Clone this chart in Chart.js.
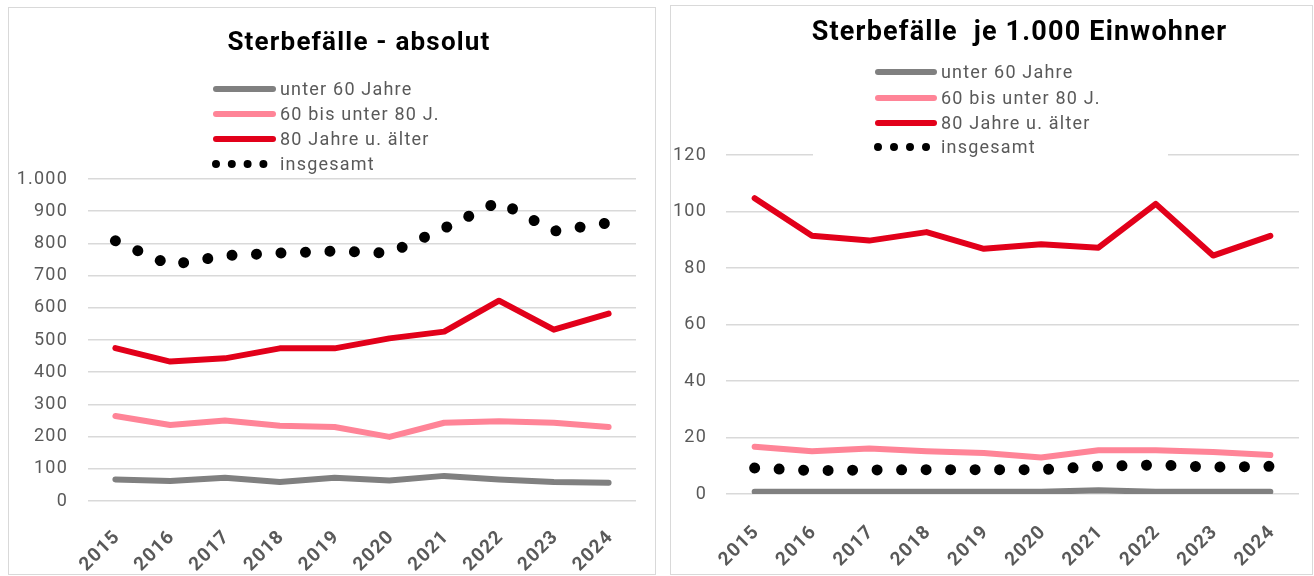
<!DOCTYPE html>
<html><head><meta charset="utf-8">
<script src="https://cdn.jsdelivr.net/npm/chart.js@4"></script>
<style>
html,body{margin:0;padding:0;background:#fff;width:1314px;height:576px;overflow:hidden;}
.box{position:absolute;border:1px solid #d9d9d9;background:#fff;}
canvas{display:block;}
</style></head><body>
<div class="box" style="left:8px;top:7px;"><canvas id="c1" width="646" height="566"></canvas></div>
<div class="box" style="left:670px;top:5px;"><canvas id="c2" width="641" height="568"></canvas></div>
<script>
// ---- data ----
const categories = ['2015','2016','2017','2018','2019','2020','2021','2022','2023','2024'];
const seriesLabels = ['unter 60 Jahre','60 bis unter 80 J.','80 Jahre u. älter','insgesamt'];

const absUnter60 = [67, 62, 72, 59, 72, 64, 78, 67, 59, 57];
const abs60bis80 = [264, 236, 250, 234, 230, 199, 243, 248, 243, 230];
const abs80plus  = [475, 433, 443, 474, 474, 505, 526, 622, 532, 582];
const absGesamt  = [808, 733, 762, 770, 776, 770, 847, 930, 838, 864];

const rateUnter60 = [0.8, 0.8, 0.8, 0.8, 0.8, 0.8, 1.3, 0.8, 0.8, 0.8];
const rate60bis80 = [16.7, 15.1, 16.1, 15.1, 14.5, 12.9, 15.5, 15.5, 14.9, 13.8];
const rate80plus  = [104.7, 91.4, 89.7, 92.7, 86.8, 88.4, 87.2, 102.7, 84.4, 91.4];
const rateGesamt  = [9.2, 8.3, 8.5, 8.6, 8.6, 8.6, 9.8, 10.3, 9.5, 9.8];

const titleAbs = 'Sterbefälle - absolut';
const titleRate = 'Sterbefälle  je 1.000 Einwohner';

// ---- styling ----
const GREY = '#808080', PINK = '#FF8497', RED = '#E2001A', DOT = '#000000', TXT = '#595959';
Chart.defaults.font.family = 'Roboto';

function fmtDE(v){ return String(v).replace(/\B(?=(\d{3})+(?!\d))/g, '.'); }

function makeDatasets(a,b,c,d){
  const line = (label,data,color)=>({label,data,borderColor:color,backgroundColor:color,borderWidth:6,
    pointRadius:0,pointHoverRadius:0,tension:0,borderJoinStyle:'round',borderCapStyle:'round',fill:false});
  const dots = line(seriesLabels[3], d, DOT);
  dots.borderWidth = 11; dots.borderDash = [0.001, 24.5]; dots.borderCapStyle = 'round';
  return [line(seriesLabels[0],a,GREY), line(seriesLabels[1],b,PINK), line(seriesLabels[2],c,RED), dots];
}

const spacing = { id:'spacing', beforeDraw(chart){ chart.ctx.letterSpacing = '1.2px'; } };

// shifts the title block horizontally after layout (Excel centres it slightly differently)
const titleShift = { id:'titleShift', afterLayout(chart, args, o){
  if (chart.titleBlock && o.dx) { chart.titleBlock.left += o.dx; chart.titleBlock.right += o.dx; } } };

const excelLegend = {
  id: 'excelLegend',
  beforeDatasetsDraw(chart, args, o) {
    const ctx = chart.ctx;
    ctx.save();
    ctx.letterSpacing = '1.2px';
    if (o.clear) { ctx.fillStyle = '#fff'; ctx.fillRect(o.clear[0], o.clear[1], o.clear[2], o.clear[3]); }
    chart.data.datasets.forEach((ds, i) => {
      const y = o.rows[i];
      ctx.beginPath();
      ctx.lineCap = 'round';
      ctx.strokeStyle = ds.borderColor;
      if (ds.borderDash && ds.borderDash.length) {
        ctx.lineWidth = 8; ctx.setLineDash([0.001, o.dotGap]);
        ctx.moveTo(o.x0 + 3, y); ctx.lineTo(o.x0 + 3 + 3 * o.dotGap + 1, y);
      } else {
        ctx.lineWidth = 6; ctx.setLineDash([]);
        ctx.moveTo(o.x0 + 3, y); ctx.lineTo(o.x1 - 3, y);
      }
      ctx.stroke();
      ctx.setLineDash([]);
      ctx.fillStyle = TXT;
      ctx.font = '18px Roboto';
      ctx.textBaseline = 'middle';
      ctx.textAlign = 'left';
      ctx.fillText(ds.label, o.textX, y + 1);
    });
    ctx.restore();
  }
};

function makeChart(id, datasets, title, yMax, yStep, cfg){
  return new Chart(document.getElementById(id), {
    type: 'line',
    data: { labels: categories, datasets },
    plugins: [spacing, titleShift, excelLegend],
    options: {
      responsive: false, animation: false, devicePixelRatio: 1,
      layout: { padding: { left: 0, right: cfg.padRight, top: 0, bottom: 0 } },
      plugins: {
        legend: { display: false },
        tooltip: { enabled: false },
        title: { display: true, text: title, fullSize: false, color: '#000',
          font: { size: cfg.titleSize, weight: 'bold', lineHeight: 1.2 },
          padding: { top: cfg.titleTop, bottom: cfg.titleBottom } },
        titleShift: { dx: cfg.titleDx },
        excelLegend: cfg.legend
      },
      scales: {
        x: { type: 'category', offset: true,
          grid: { display: false }, border: { display: false },
          ticks: { autoSkip: false, maxRotation: 45, minRotation: 45, padding: cfg.xPad, labelOffset: 2,
            color: TXT, font: { size: 19, weight: 'bold' } },
          afterFit(s){ s.height = cfg.xHeight; } },
        y: { min: 0, max: yMax,
          grid: { color: '#d9d9d9', lineWidth: 1.5, drawTicks: false }, border: { display: false },
          ticks: { stepSize: yStep, padding: cfg.yPad, color: TXT, font: { size: 18 }, callback: v => fmtDE(v) },
          afterFit(s){ s.width = cfg.yWidth; } }
      }
    }
  });
}

makeChart('c1', makeDatasets(absUnter60, abs60bis80, abs80plus, absGesamt), titleAbs, 1000, 100, {
  padRight: 19, titleTop: 20, titleBottom: 119.8, titleSize: 26, titleDx: -3, xHeight: 73, xPad: 17, yWidth: 79, yPad: 20,
  legend: { x0: 204, x1: 267, textX: 271, rows: [81, 106, 131, 156], dotGap: 15.8 }
});
makeChart('c2', makeDatasets(rateUnter60, rate60bis80, rate80plus, rateGesamt), titleRate, 120, 20, {
  padRight: 13, titleTop: 11, titleBottom: 105.6, titleSize: 27, titleDx: 7, xHeight: 80, xPad: 19, yWidth: 55, yPad: 19,
  legend: { x0: 204, x1: 266, textX: 270, rows: [66, 92, 117, 141], dotGap: 16, clear: [142, 50, 355, 101] }
});
</script>
</body></html>
